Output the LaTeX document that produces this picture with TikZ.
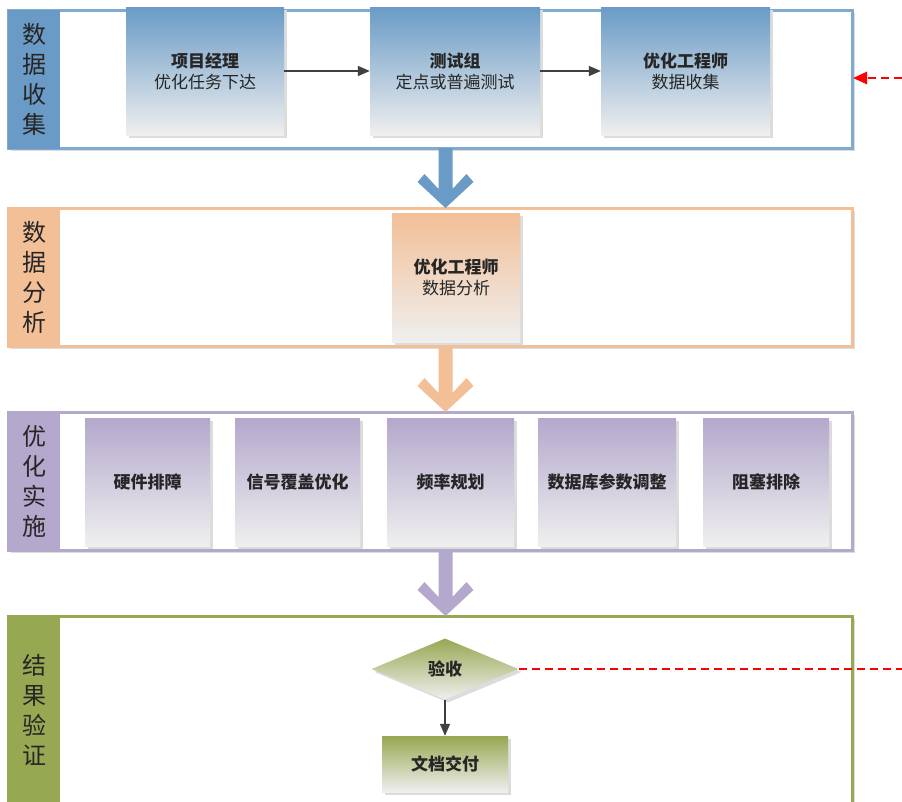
\documentclass[tikz,border=0pt]{standalone}
\usepackage{fontspec}
\setmainfont{Noto Sans CJK SC}
\usetikzlibrary{shapes.geometric,arrows.meta,shadows}
\definecolor{bluec}{HTML}{6A9BC6}
\definecolor{orangec}{HTML}{F2BF97}
\definecolor{purplec}{HTML}{B4A8CC}
\definecolor{greenc}{HTML}{97A852}
\definecolor{lightc}{HTML}{EFEFEF}
\definecolor{shadowc}{HTML}{DCDCDC}
\definecolor{linec}{HTML}{404040}
\tikzset{
  frameshadow/.style={fill=shadowc},
  frame/.style={draw=#1, line width=3pt, fill=white},
  bar/.style={fill=#1, minimum width=52pt, inner sep=0pt, align=center,
    font=\fontsize{24}{30}\selectfont, text=black!85},
  gbox/.style={top color=#1, bottom color=lightc, inner sep=0pt, align=center,
    font=\fontsize{17}{21}\selectfont, text=black!85,
    drop shadow={fill=shadowc, opacity=1, shadow xshift=3pt, shadow yshift=-3pt}},
  conn/.style={draw=linec, line width=1.6pt, -{Triangle[length=12pt,width=10pt]}},
  redconn/.style={draw=red, line width=2.6pt, dash pattern=on 8pt off 5pt},
  blockarrow/.pic={\fill[#1] (0,0) -- (-28,-26) -- (-21,-34) -- (-7,-19)
      -- (-7,-\arrlen) -- (7,-\arrlen) -- (7,-19) -- (21,-34) -- (28,-26) -- cycle;}
}
\newcommand{\arrlen}{60}
\begin{document}
\begin{tikzpicture}[x=1pt,y=-1pt]
\useasboundingbox (0,0) rectangle (902,801);

% ---------- section 1 ----------
\fill[frameshadow] (11,13) rectangle (855,151);
\draw[frame=bluec!85] (8,10) rectangle (852,148);
\node[bar=bluec, minimum height=139pt] (lab1) at (34,79) {数\\据\\收\\集};
\node[gbox=bluec, minimum width=158pt, minimum height=128pt] (b11) at (205,71)
  {\textbf{项目经理}\\优化任务下达};
\node[gbox=bluec, minimum width=170pt, minimum height=128pt] (b12) at (455,71)
  {\textbf{测试组}\\定点或普遍测试};
\node[gbox=bluec, minimum width=169pt, minimum height=128pt] (b13) at (685.5,71)
  {\textbf{优化工程师}\\数据收集};
\draw[conn] (b11.east) -- (b12.west);
\draw[conn] (b12.east) -- (b13.west);
\coordinate (s1e) at (853,78);
\coordinate (rin) at (902,78);

% ---------- section 2 ----------
\fill[frameshadow] (11,211) rectangle (855,349);
\draw[frame=orangec] (8,208) rectangle (852,346);
\node[bar=orangec, minimum height=139pt] (lab2) at (34,277) {数\\据\\分\\析};
\node[gbox=orangec, minimum width=128pt, minimum height=129pt] (b21) at (456,277.5)
  {\textbf{优化工程师}\\数据分析};

% ---------- section 3 ----------
\fill[frameshadow] (11,415) rectangle (855,553);
\draw[frame=purplec] (8,412) rectangle (852,550);
\node[bar=purplec, minimum height=139pt] (lab3) at (34,481) {优\\化\\实\\施};
\node[gbox=purplec, minimum width=125pt, minimum height=128pt] (b31) at (147.5,482) {\textbf{硬件排障}};
\node[gbox=purplec, minimum width=125pt, minimum height=128pt] (b32) at (297.5,482) {\textbf{信号覆盖优化}};
\node[gbox=purplec, minimum width=127pt, minimum height=128pt] (b33) at (450.5,482) {\textbf{频率规划}};
\node[gbox=purplec, minimum width=138pt, minimum height=128pt] (b34) at (607,482) {\textbf{数据库参数调整}};
\node[gbox=purplec, minimum width=126pt, minimum height=128pt] (b35) at (766,482) {\textbf{阻塞排除}};

% ---------- section 4 ----------
\fill[frameshadow] (11,619) rectangle (855,810);
\draw[frame=greenc] (8,616) rectangle (852,806);
\node[bar=greenc, minimum height=188pt] (lab4) at (34,710) {结\\果\\验\\证};
\node[diamond, aspect=2.4, minimum width=147pt, minimum height=61pt, inner sep=0pt,
  top color=greenc, bottom color=lightc, font=\fontsize{17}{21}\selectfont, text=black!85,
  drop shadow={fill=shadowc, opacity=1, shadow xshift=3pt, shadow yshift=-3pt}]
  (d) at (445,669) {\textbf{验收}};
\node[gbox=greenc, minimum width=126pt, minimum height=56pt] (b41) at (445,764) {\textbf{文档交付}};
\draw[conn] (d.south) -- (b41.north);
\coordinate (rout) at (902,669);
\draw[redconn] (d.east) -- (rout);
\draw[redconn, -{Triangle[length=14pt,width=12pt]}] (rin) -- (s1e);

% ---------- block arrows ----------
\renewcommand{\arrlen}{60}
\pic at (445.5,208) {blockarrow=bluec};
\renewcommand{\arrlen}{65}
\pic at (445.5,412) {blockarrow=orangec};
\pic at (445.5,616) {blockarrow=purplec};
\end{tikzpicture}
\end{document}
